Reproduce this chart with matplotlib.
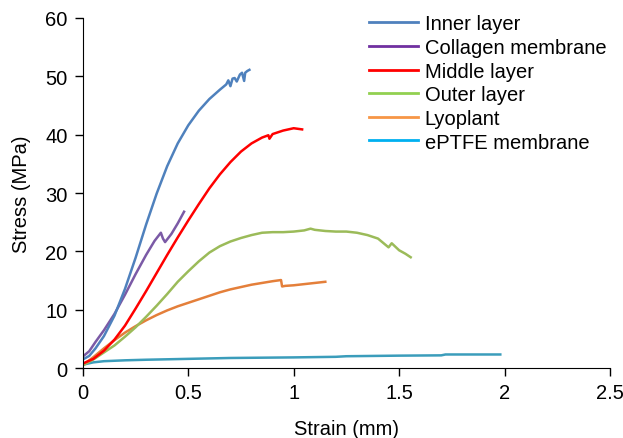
import matplotlib
matplotlib.use('Agg')
from matplotlib import pyplot as plt
from matplotlib.lines import Line2D

plt.rcParams['font.family'] = ['Liberation Sans', 'DejaVu Sans']

# Inner layer
inner_x = [0, 0.03, 0.06, 0.1, 0.15, 0.2, 0.25, 0.3, 0.35, 0.4, 0.45, 0.5, 0.55, 0.6,
           0.65, 0.68, 0.69, 0.7, 0.71, 0.72, 0.73, 0.745, 0.755, 0.765, 0.77, 0.78, 0.79]
inner_y = [1.5, 2.1, 3.4, 5.5, 9.0, 13.6, 18.9, 24.6, 29.9, 34.6, 38.5, 41.6, 44.1, 46.1,
           47.7, 48.6, 49.3, 48.3, 49.6, 49.7, 49.1, 50.3, 50.6, 49.2, 50.6, 50.9, 51.1]

# Collagen membrane
coll_x = [0, 0.03, 0.06, 0.1, 0.15, 0.2, 0.25, 0.3, 0.34, 0.37, 0.38, 0.39, 0.42, 0.45, 0.48]
coll_y = [2, 2.9, 4.5, 6.5, 9.3, 12.6, 16.1, 19.4, 21.8, 23.2, 22.2, 21.6, 23, 24.8, 26.8]

# Middle layer
mid_x = [0, 0.05, 0.1, 0.15, 0.2, 0.25, 0.3, 0.35, 0.4, 0.45, 0.5, 0.55, 0.6, 0.65,
         0.7, 0.75, 0.8, 0.85, 0.88, 0.885, 0.9, 0.95, 1.0, 1.04]
mid_y = [0.8, 1.6, 3.0, 4.9, 7.3, 10.2, 13.2, 16.3, 19.4, 22.4, 25.3, 28.1, 30.8, 33.2,
         35.3, 37.1, 38.5, 39.5, 39.9, 39.3, 40.1, 40.7, 41.1, 40.9]

# Outer layer
out_x = [0, 0.05, 0.1, 0.15, 0.2, 0.25, 0.3, 0.35, 0.4, 0.45, 0.5, 0.55, 0.6, 0.65,
         0.7, 0.75, 0.8, 0.85, 0.9, 0.95, 1.0, 1.05, 1.08, 1.1, 1.15, 1.2, 1.25, 1.3,
         1.35, 1.4, 1.43, 1.45, 1.465, 1.5, 1.53, 1.555]
out_y = [0.5, 1.5, 2.7, 3.9, 5.4, 7.0, 8.8, 10.7, 12.7, 14.8, 16.6, 18.3, 19.8, 20.9,
         21.7, 22.3, 22.8, 23.2, 23.3, 23.3, 23.4, 23.6, 23.9, 23.7, 23.5, 23.4, 23.4, 23.2,
         22.8, 22.2, 21.3, 20.7, 21.4, 20.2, 19.6, 19.0]

# Lyoplant
lyo_x = [0, 0.05, 0.1, 0.15, 0.2, 0.25, 0.3, 0.35, 0.4, 0.45, 0.5, 0.55, 0.6, 0.65,
         0.7, 0.75, 0.8, 0.85, 0.9, 0.94, 0.945, 0.96, 1.0, 1.05, 1.1, 1.15]
lyo_y = [0.5, 1.9, 3.4, 4.8, 6.1, 7.2, 8.2, 9.1, 9.9, 10.6, 11.2, 11.8, 12.4, 13,
         13.5, 13.9, 14.3, 14.6, 14.9, 15.1, 14.0, 14.1, 14.2, 14.4, 14.6, 14.8]

# ePTFE membrane
ept_x = [0, 0.05, 0.1, 0.2, 0.3, 0.5, 0.7, 1.0, 1.2, 1.25, 1.5, 1.7, 1.72, 1.98]
ept_y = [0.6, 1.0, 1.2, 1.35, 1.45, 1.6, 1.75, 1.85, 1.95, 2.05, 2.15, 2.2, 2.35, 2.35]

labels = ['Inner layer', 'Collagen membrane', 'Middle layer', 'Outer layer',
          'Lyoplant', 'ePTFE membrane']
line_colors = ['#4f81bd', '#7b5aa6', '#ff0000', '#9bbb59', '#e47f3a', '#3b9dbb']
legend_colors = ['#4f81bd', '#7030a0', '#ff0000', '#92d050', '#f79646', '#00b0f0']

fig = plt.figure(figsize=(6.23, 4.39), dpi=100)
ax = fig.add_axes([0.133, 0.159, 0.846, 0.798])

series = [(inner_x, inner_y), (coll_x, coll_y), (mid_x, mid_y),
          (out_x, out_y), (lyo_x, lyo_y), (ept_x, ept_y)]
for i in [5, 4, 3, 2, 1, 0]:
    x, y = series[i]
    ax.plot(x, y, color=line_colors[i], lw=1.8)

ax.set_xlim(0, 2.5)
ax.set_ylim(0, 60)
ax.set_xticks([0, 0.5, 1, 1.5, 2, 2.5])
ax.set_xticklabels(['0', '0.5', '1', '1.5', '2', '2.5'])
ax.set_yticks(range(0, 61, 10))
ax.spines['top'].set_visible(False)
ax.spines['right'].set_visible(False)
ax.tick_params(direction='out', length=6, width=1, pad=5, labelsize=14.5, colors='black')
ax.set_xlabel('Strain (mm)', fontsize=14.5, labelpad=12)
ax.set_ylabel('Stress (MPa)', fontsize=14.5, labelpad=10)

handles = [Line2D([], [], color=c, lw=2) for c in legend_colors]
ax.legend(handles, labels, loc='upper left', bbox_to_anchor=(0.527, 1.033),
          frameon=False, fontsize=14.5, handlelength=2.44, handletextpad=0.35,
          labelspacing=0.23, borderaxespad=0)

fig.savefig('out.png', dpi=100)
